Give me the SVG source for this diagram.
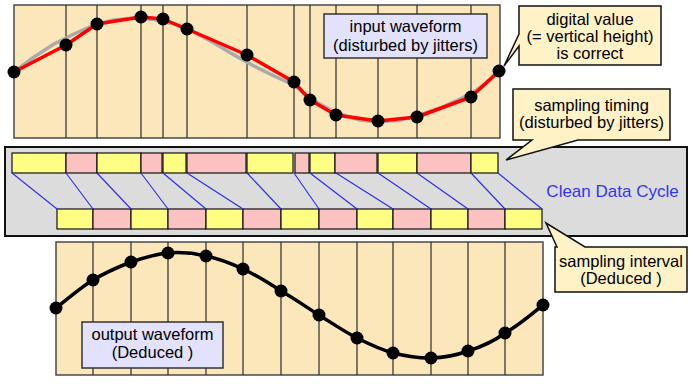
<svg xmlns="http://www.w3.org/2000/svg" width="692" height="388" viewBox="0 0 692 388">
<style>
.panel{fill:#fce7bb;stroke:#4a4a4a;stroke-width:1.5}
.vl{stroke:#2a2a2a;stroke-width:1.2}
.dot{fill:#000}
.lbl{fill:#e2e2fc;stroke:#333;stroke-width:1.5}
.call{fill:#fff2c6;stroke:#111;stroke-width:1.5;stroke-linejoin:miter}
.t{font-family:"Liberation Sans",Arial,sans-serif;font-size:16.5px;fill:#000;text-anchor:middle}
.y{fill:#fefe82;stroke:#111;stroke-width:1.2}
.p{fill:#fcc2c2;stroke:#111;stroke-width:1.2}
.blue{stroke:#2828e8;stroke-width:1.1;fill:none}
</style>
<rect width="692" height="388" fill="#fff"/>

<g id="input-panel">
<rect class="panel" x="14" y="5" width="486" height="133"/>
<g class="vl">
<line x1="66" y1="5" x2="66" y2="138"/><line x1="97" y1="5" x2="97" y2="138"/><line x1="141" y1="5" x2="141" y2="138"/><line x1="163" y1="5" x2="163" y2="138"/><line x1="187" y1="5" x2="187" y2="138"/><line x1="247" y1="5" x2="247" y2="138"/><line x1="294" y1="5" x2="294" y2="138"/><line x1="310" y1="5" x2="310" y2="138"/><line x1="336" y1="5" x2="336" y2="138"/><line x1="378" y1="5" x2="378" y2="138"/><line x1="417" y1="5" x2="417" y2="138"/><line x1="471" y1="5" x2="471" y2="138"/>
</g>
<polyline fill="none" stroke="#aaa" stroke-width="3.5" stroke-linejoin="round" stroke-linecap="round" points="14,72 34,57 54,44 74,34 94,25 114,20 134,18 154,19.5 174,24 194,32 214,43 234,55 254,66 274,76 294,85 311,99 336,113 360,120 378,122 400,120 417,116 440,108 460,99 474,92 490,80 499,71"/>
<polyline fill="none" stroke="#f00" stroke-width="3.5" stroke-linejoin="round" stroke-linecap="round" points="14,72 66,45 97,24 141,17 163,19 187,29 247,55 294,82 310,100 336,115 378,121 417,117 471,97 499,71"/>
<g class="dot">
<circle cx="14" cy="72" r="6.5"/><circle cx="66" cy="45" r="6.5"/><circle cx="97" cy="24" r="6.5"/><circle cx="141" cy="17" r="6.5"/><circle cx="163" cy="19" r="6.5"/><circle cx="187" cy="29" r="6.5"/><circle cx="247" cy="55" r="6.5"/><circle cx="294" cy="82" r="6.5"/><circle cx="310" cy="100" r="6.5"/><circle cx="336" cy="115" r="6.5"/><circle cx="378" cy="121" r="6.5"/><circle cx="417" cy="117" r="6.5"/><circle cx="471" cy="97" r="6.5"/><circle cx="499" cy="71" r="6.5"/>
</g>
</g>

<g id="input-label">
<rect class="lbl" x="324" y="14" width="163" height="44"/>
<text class="t" x="405.5" y="32">input waveform</text>
<text class="t" x="405.5" y="50.5">(disturbed by jitters)</text>
</g>

<g id="digital-value-callout">
<path class="call" d="M519,6 H661 V65 H519 V46 L504,66 L519,34 Z"/>
<text class="t" x="590" y="25">digital value</text>
<text class="t" x="590" y="42">(= vertical height)</text>
<text class="t" x="590" y="59">is correct</text>
</g>

<g id="clean-data-cycle">
<rect x="5" y="147" width="682" height="89" fill="#dcdcdc" stroke="#111" stroke-width="2"/>
<rect class="y" x="12" y="153" width="54" height="20"/>
<rect class="p" x="66" y="153" width="31" height="20"/>
<rect class="y" x="97" y="153" width="44" height="20"/>
<rect class="p" x="141" y="153" width="21" height="20"/>
<rect class="y" x="163" y="153" width="23" height="20"/>
<rect class="p" x="187" y="153" width="59" height="20"/>
<rect class="y" x="247" y="153" width="46" height="20"/>
<rect class="p" x="295" y="153" width="14" height="20"/>
<rect class="y" x="310" y="153" width="25" height="20"/>
<rect class="p" x="335" y="153" width="42" height="20"/>
<rect class="y" x="378" y="153" width="39" height="20"/>
<rect class="p" x="417" y="153" width="54" height="20"/>
<rect class="y" x="471" y="153" width="27" height="20"/>

<rect class="y" x="57" y="209" width="36" height="20"/>
<rect class="p" x="93" y="209" width="38" height="20"/>
<rect class="y" x="131" y="209" width="37" height="20"/>
<rect class="p" x="168" y="209" width="38" height="20"/>
<rect class="y" x="206" y="209" width="37" height="20"/>
<rect class="p" x="243" y="209" width="38" height="20"/>
<rect class="y" x="281" y="209" width="38" height="20"/>
<rect class="p" x="319" y="209" width="38" height="20"/>
<rect class="y" x="357" y="209" width="36" height="20"/>
<rect class="p" x="393" y="209" width="38" height="20"/>
<rect class="y" x="431" y="209" width="37" height="20"/>
<rect class="p" x="468" y="209" width="37" height="20"/>
<rect class="y" x="505" y="209" width="37" height="20"/>
<text x="612.5" y="197" font-family="'Liberation Sans',Arial,sans-serif" font-size="17" fill="#3434f0" text-anchor="middle">Clean Data Cycle</text>
</g>

<g id="connectors" class="blue">
<line x1="12" y1="173" x2="57" y2="209"/>
<line x1="66" y1="173" x2="93" y2="209"/>
<line x1="97" y1="173" x2="131" y2="209"/>
<line x1="141" y1="173" x2="168" y2="209"/>
<line x1="163" y1="173" x2="206" y2="209"/>
<line x1="187" y1="173" x2="243" y2="209"/>
<line x1="247" y1="173" x2="281" y2="209"/>
<line x1="294" y1="173" x2="319" y2="209"/>
<line x1="310" y1="173" x2="357" y2="209"/>
<line x1="336" y1="173" x2="393" y2="209"/>
<line x1="378" y1="173" x2="431" y2="209"/>
<line x1="417" y1="173" x2="468" y2="209"/>
<line x1="471" y1="173" x2="505" y2="209"/>
<line x1="498" y1="173" x2="542" y2="209"/>
</g>

<g id="sampling-timing-callout">
<path class="call" d="M513,89 H670 V140 H578 L506,160 L532,140 H513 Z"/>
<text class="t" x="591.5" y="111">sampling timing</text>
<text class="t" x="591.5" y="128">(disturbed by jitters)</text>
</g>

<g id="sampling-interval-callout">
<path class="call" d="M555,247 H557 L546,223 L585,247 H687 V292 H555 Z"/>
<text class="t" x="621" y="267">sampling interval</text>
<text class="t" x="621" y="284">(Deduced )</text>
</g>

<g id="output-panel">
<rect class="panel" x="56" y="242" width="487" height="133"/>
<g class="vl">
<line x1="93" y1="242" x2="93" y2="375"/><line x1="131" y1="242" x2="131" y2="375"/><line x1="168" y1="242" x2="168" y2="375"/><line x1="206" y1="242" x2="206" y2="375"/><line x1="243" y1="242" x2="243" y2="375"/><line x1="281" y1="242" x2="281" y2="375"/><line x1="319" y1="242" x2="319" y2="375"/><line x1="357" y1="242" x2="357" y2="375"/><line x1="393" y1="242" x2="393" y2="375"/><line x1="431" y1="242" x2="431" y2="375"/><line x1="468" y1="242" x2="468" y2="375"/><line x1="505" y1="242" x2="505" y2="375"/>
</g>
<path fill="none" stroke="#000" stroke-width="3.5" stroke-linecap="round" d="M56,308 C62.2,303.3 80.3,287.7 93,280 C105.7,272.3 119.5,266.5 131,262 C144.5,257.5 155.5,254 168,253 C180.5,252 194.5,253.3 206,256 C219.5,258.7 230.5,263.2 243,269 C255.5,274.8 269.3,283.3 281,291 C294.7,298.7 306.5,307.2 319,315 C331.5,322.8 344.5,331.7 357,338 C369.5,344.3 381.5,349.7 393,353 C406.5,356.3 419.5,358.3 431,358 C444.5,357.7 456.5,355.2 468,351 C481.5,346.8 494.7,340.7 505,333 C519.3,325.3 537,309.7 543,305"/>
<g class="dot">
<circle cx="56" cy="308" r="6.5"/><circle cx="93" cy="280" r="6.5"/><circle cx="131" cy="262" r="6.5"/><circle cx="168" cy="253" r="6.5"/><circle cx="206" cy="256" r="6.5"/><circle cx="243" cy="269" r="6.5"/><circle cx="281" cy="291" r="6.5"/><circle cx="319" cy="315" r="6.5"/><circle cx="357" cy="338" r="6.5"/><circle cx="393" cy="353" r="6.5"/><circle cx="431" cy="358" r="6.5"/><circle cx="468" cy="351" r="6.5"/><circle cx="505" cy="333" r="6.5"/><circle cx="543" cy="305" r="6.5"/>
</g>
</g>

<g id="output-label">
<rect class="lbl" x="82" y="322" width="141" height="46"/>
<text class="t" x="152.5" y="340">output waveform</text>
<text class="t" x="152.5" y="358">(Deduced )</text>
</g>
</svg>
